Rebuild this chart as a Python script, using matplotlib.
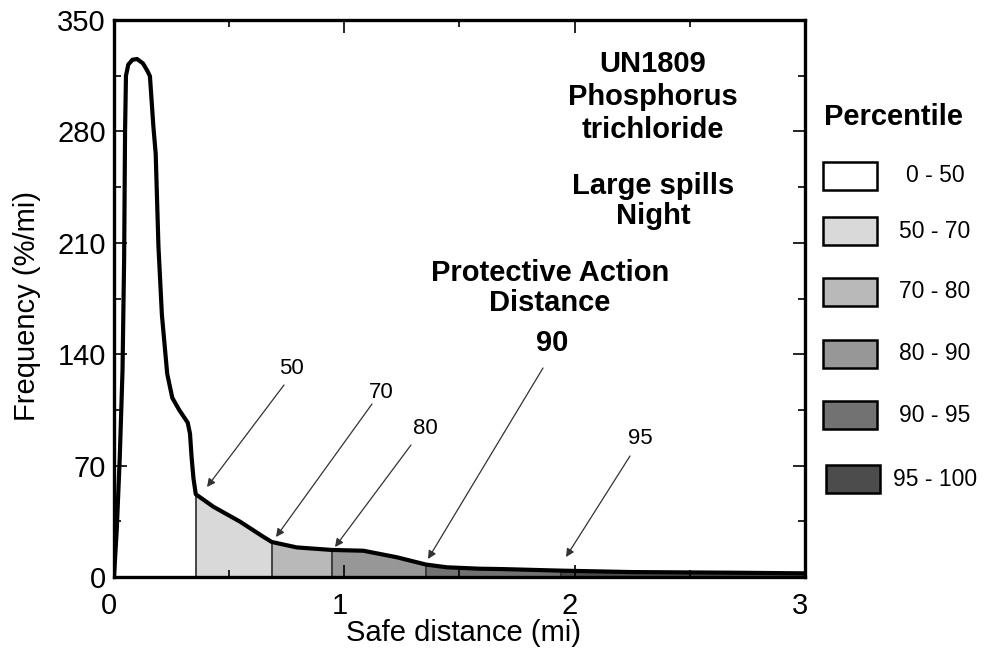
import numpy as np
import matplotlib
matplotlib.use("Agg")
import matplotlib.pyplot as plt
from matplotlib.patches import Rectangle
from matplotlib.ticker import MultipleLocator
from matplotlib.transforms import ScaledTranslation

plt.rcParams['font.family'] = ['Liberation Sans', 'DejaVu Sans']

# ---- data ----
distance = [0.0, 0.012, 0.025, 0.037, 0.044, 0.048, 0.052, 0.062, 0.080, 0.100,
            0.126, 0.145, 0.156, 0.171, 0.181, 0.193, 0.208, 0.231, 0.253, 0.283,
            0.320, 0.330, 0.337, 0.345, 0.355, 0.431, 0.547, 0.648, 0.685, 0.793,
            0.945, 1.083, 1.228, 1.355, 1.445, 1.590, 1.680, 1.940, 2.250, 2.690, 3.0]
frequency = [0, 30, 75, 130, 200, 280, 315, 322, 325, 325.5,
             322.7, 318, 314.7, 283, 266, 207.7, 164.6, 127.7, 112.6, 105,
             97, 90, 75, 62, 52, 44.2, 34.8, 25.3, 22, 18.6,
             17, 16.5, 12.4, 7.8, 6.1, 5.2, 5.0, 4.0, 3.1, 2.7, 2.3]

percentile_bounds = [0.0, 0.355, 0.685, 0.945, 1.355, 1.94, 3.0]
percentile_labels = ['0 - 50', '50 - 70', '70 - 80', '80 - 90', '90 - 95', '95 - 100']
band_colors = ['#ffffff', '#d9d9d9', '#b9b9b9', '#979797', '#727272', '#4c4c4c']

arrow_labels = ['50', '70', '80', '90', '95']

xticks_major = [0, 1, 2, 3]
yticks_major = [0, 70, 140, 210, 280, 350]

# ---- figure ----
W, H = 985, 655
fig = plt.figure(figsize=(W / 100, H / 100), dpi=100)
x0p, x1p, y0p, y1p = 114, 805, 577, 20
ax = fig.add_axes([x0p / W, 1 - y0p / H, (x1p - x0p) / W, (y0p - y1p) / H])
ax.set_xlim(0, 3)
ax.set_ylim(0, 350)

def pix2data(px, py):
    return ((px - x0p) / (x1p - x0p) * 3.0, (y0p - py) / (y0p - y1p) * 350.0)

xd = np.array(distance)
yd = np.array(frequency)

# filled percentile bands
for i in range(len(percentile_bounds) - 1):
    a, b = percentile_bounds[i], percentile_bounds[i + 1]
    inner = xd[(xd > a) & (xd < b)]
    xs = np.concatenate([[a], inner, [b]])
    ys = np.interp(xs, xd, yd)
    ax.fill_between(xs, 0, ys, color=band_colors[i], linewidth=0, zorder=1)

# boundary lines
for b in percentile_bounds[1:-1]:
    ax.plot([b, b], [0, np.interp(b, xd, yd)], color='#2a2a2a', lw=1.2, zorder=2)

ax.plot(xd, yd, color='black', lw=3.0, zorder=3, solid_joinstyle='round')

# ticks
ax.xaxis.set_minor_locator(MultipleLocator(0.5))
ax.yaxis.set_minor_locator(MultipleLocator(35))
ax.set_xticks(xticks_major)
ax.set_yticks(yticks_major)
ax.tick_params(which='both', direction='in', top=True, right=True, width=1.2,
               labelsize=21, colors='black')
ax.tick_params(which='major', length=9)
ax.tick_params(which='minor', length=5)
ax.tick_params(axis='x', pad=11)
ax.tick_params(axis='y', pad=6)
shift = ScaledTranslation(-5 / 100, 0, fig.dpi_scale_trans)
for lab in ax.get_xticklabels():
    lab.set_transform(lab.get_transform() + shift)
for s in ax.spines.values():
    s.set_linewidth(2.4)

ax.set_xlabel('Safe distance (mi)', fontsize=21)
ax.set_ylabel('Frequency (%/mi)', fontsize=21)
ax.xaxis.label.set_va('center')
ax.yaxis.label.set_va('center')
ax.xaxis.set_label_coords((464 - x0p) / (x1p - x0p), (y0p - 633) / (y0p - y1p))
ax.yaxis.set_label_coords((27 - x0p) / (x1p - x0p), (y0p - 306) / (y0p - y1p))

# arrows (text position, tail, head in figure pixels)
arrow_text_px = [(291, 368), (381, 392), (425, 429), (552, 343), (640, 438)]
arrow_tail_px = [(284, 385), (372, 404), (411, 445), (543, 368), (630, 456)]
arrow_head_px = [(207, 487), (276, 537), (335, 547), (428, 559), (566, 557)]
for lab, tp, tl, hd in zip(arrow_labels, arrow_text_px, arrow_tail_px, arrow_head_px):
    ax.annotate('', xy=pix2data(*hd), xytext=pix2data(*tl),
                arrowprops=dict(arrowstyle='-|>', lw=0.9, color='#333333',
                                mutation_scale=12, shrinkA=0, shrinkB=0), zorder=4)
    bold = lab == '90'
    ax.text(*pix2data(*tp), lab, ha='center', va='center',
            fontsize=21 if bold else 16, fontweight='bold' if bold else 'normal')

# title block
def ftext(px, py, s, **kw):
    fig.text(px / W, 1 - py / H, s, ha='center', va='center', **kw)

for s, py in [('UN1809', 64), ('Phosphorus', 97), ('trichloride', 130),
              ('Large spills', 186), ('Night', 216)]:
    ftext(653, py, s, fontsize=21, fontweight='bold')
ftext(550, 273, 'Protective Action', fontsize=21, fontweight='bold')
ftext(550, 303, 'Distance', fontsize=21, fontweight='bold')

# legend
ftext(893, 117, 'Percentile', fontsize=21, fontweight='bold')
box_y = [176, 231, 292, 354, 415, 479]
for lab, col, yc in zip(percentile_labels, band_colors, box_y):
    bx = 823 if lab != '95 - 100' else 826
    r = Rectangle((bx / W, 1 - (yc + 14) / H), 54 / W, 28 / H, transform=fig.transFigure,
                  facecolor=col, edgecolor='black', lw=1.8)
    fig.add_artist(r)
    ftext(935, yc, lab, fontsize=16.5)

fig.savefig('out.png', dpi=100)
